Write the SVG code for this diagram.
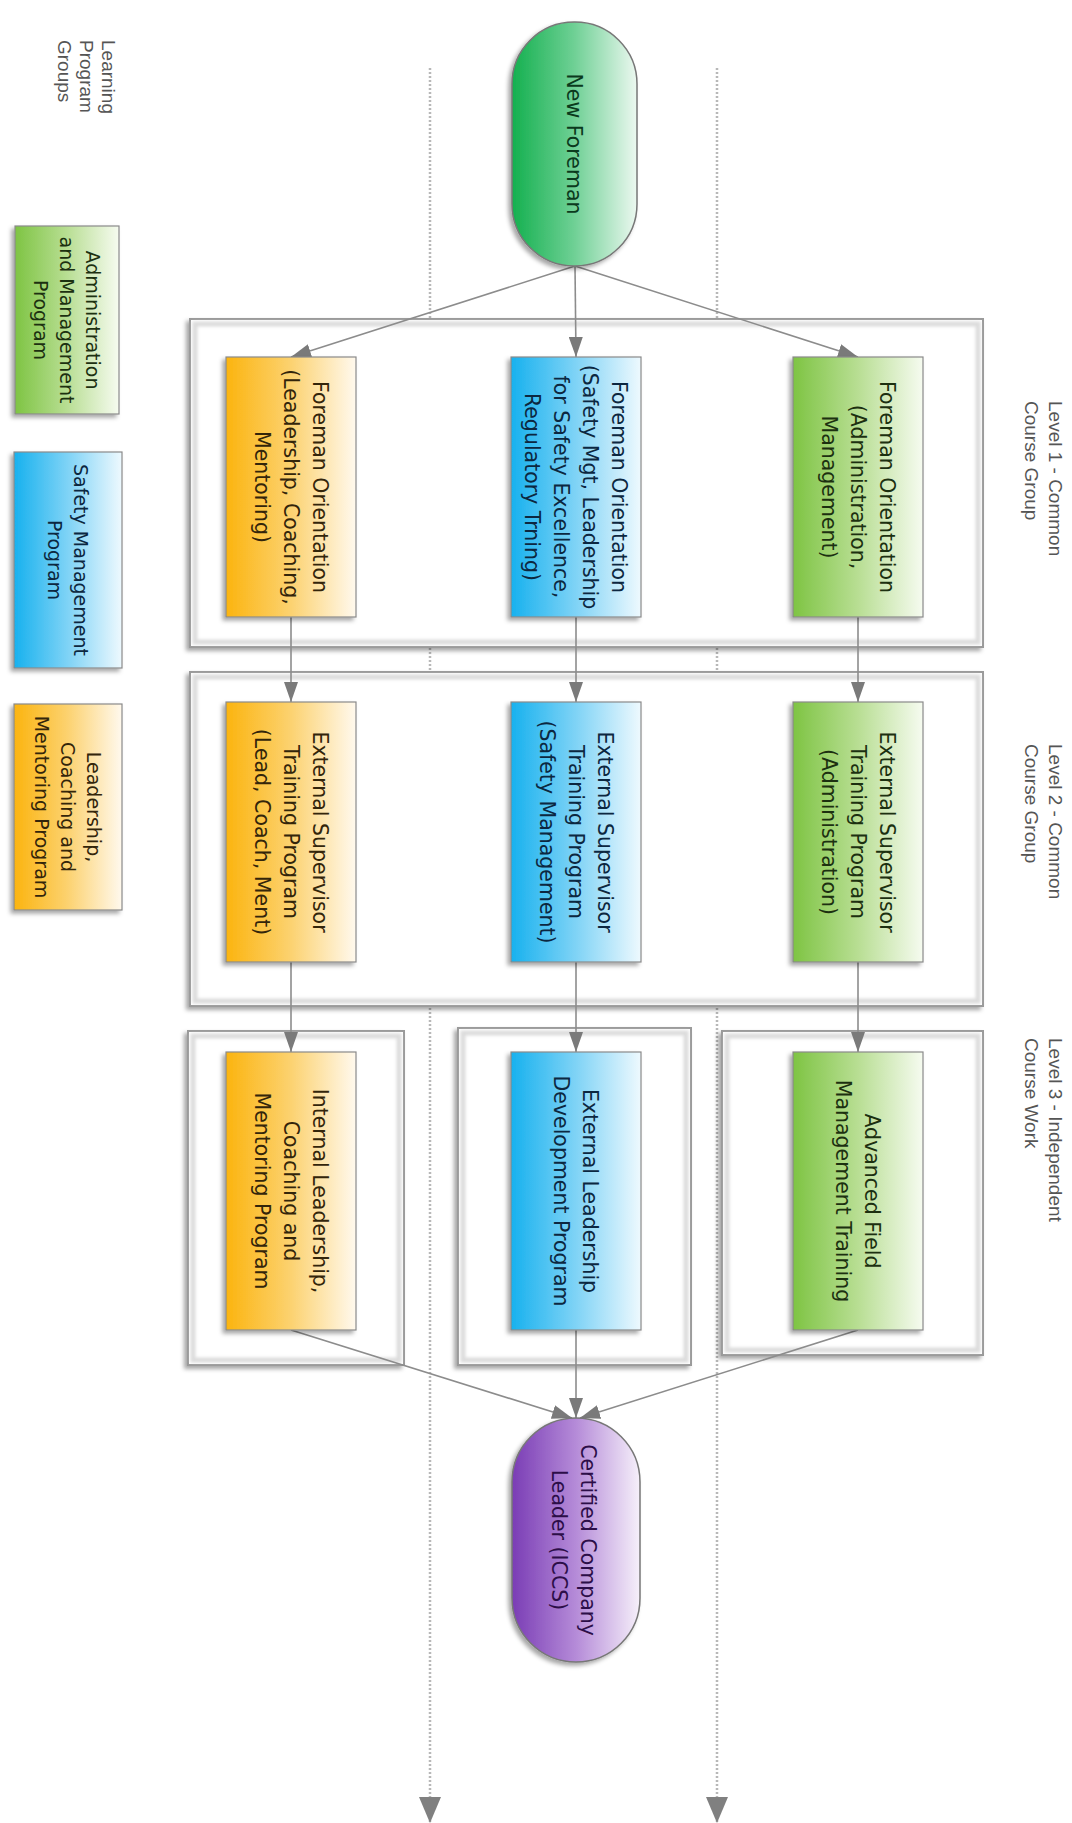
<svg xmlns="http://www.w3.org/2000/svg" width="1072" height="1823" viewBox="0 0 1072 1823">
<defs>
  <linearGradient id="gOrange" x1="0" y1="0" x2="1" y2="0">
    <stop offset="0" stop-color="#fbb40f"/><stop offset="0.5" stop-color="#fcd270"/><stop offset="1" stop-color="#fff9ee"/>
  </linearGradient>
  <linearGradient id="gBlue" x1="0" y1="0" x2="1" y2="0">
    <stop offset="0" stop-color="#17b1ee"/><stop offset="0.5" stop-color="#7fd3f6"/><stop offset="1" stop-color="#eef9fe"/>
  </linearGradient>
  <linearGradient id="gGreen" x1="0" y1="0" x2="1" y2="0">
    <stop offset="0" stop-color="#7ec443"/><stop offset="0.5" stop-color="#b8de93"/><stop offset="1" stop-color="#f6fbf0"/>
  </linearGradient>
  <linearGradient id="gStart" x1="0" y1="0" x2="1" y2="0">
    <stop offset="0" stop-color="#14b04f"/><stop offset="0.5" stop-color="#6fd095"/><stop offset="1" stop-color="#ecf8f0"/>
  </linearGradient>
  <linearGradient id="gEnd" x1="0" y1="0" x2="1" y2="0">
    <stop offset="0" stop-color="#7a3db5"/><stop offset="0.5" stop-color="#b58bd8"/><stop offset="1" stop-color="#f6f0fa"/>
  </linearGradient>
  <filter id="shadow" x="-20%" y="-20%" width="140%" height="140%">
    <feDropShadow dx="-3" dy="3" stdDeviation="2" flood-color="#000" flood-opacity="0.35"/>
  </filter>
  <filter id="blur" x="-5%" y="-5%" width="110%" height="110%">
    <feGaussianBlur stdDeviation="1.5"/>
  </filter>
  <marker id="arrow" markerUnits="userSpaceOnUse" viewBox="0 0 20 14" markerWidth="20" markerHeight="14" refX="20" refY="7" orient="auto">
    <path d="M0,0 L20,7 L0,14 z" fill="#7a7a7a"/>
  </marker>
  <marker id="lanearrow" markerUnits="userSpaceOnUse" viewBox="0 0 26 22" markerWidth="26" markerHeight="22" refX="26" refY="11" orient="auto">
    <path d="M0,0 L26,11 L0,22 z" fill="#808080"/>
  </marker>
</defs>
<style>
  .cont { fill: #ffffff; stroke: #9a9a9a; stroke-width: 2; filter: url(#shadow); }
  .band { fill: none; stroke: #dcdcdc; stroke-width: 5; filter: url(#blur); }
  .node { stroke: #8a8a8a; stroke-width: 1.2; filter: url(#shadow); }
  .pill { stroke: #777777; stroke-width: 1.5; filter: url(#shadow); }
  .lbl { font-family: "DejaVu Sans", "Open Sans", sans-serif; font-size: 20.5px; text-anchor: middle; }
  .leg { font-family: "DejaVu Sans", "Open Sans", sans-serif; font-size: 19px; text-anchor: middle; }
  .side { font-family: "Liberation Sans", "Open Sans", sans-serif; font-size: 19px; fill: #555555; }
  .conn { fill: none; stroke: #8c8c8c; stroke-width: 1.6; marker-end: url(#arrow); }
  .lane { fill: none; stroke: #b8b8b8; stroke-width: 2.5; stroke-dasharray: 2 2; marker-end: url(#lanearrow); }
  .tO { fill: #33250a; } .tB { fill: #0c2740; } .tG { fill: #1c3010; } .tS { fill: #0b3a1d; } .tP { fill: #2c0e48; }
</style>

<!-- side labels -->
<g id="label-groups">
  <g transform="translate(84,40) rotate(90)">
    <text class="side"><tspan x="0" y="-18">Learning</tspan><tspan x="0" y="4">Program</tspan><tspan x="0" y="26">Groups</tspan></text>
  </g>
</g>
<g id="label-level1">
  <g transform="translate(1040,401) rotate(90)">
    <text class="side"><tspan x="0" y="-9">Level 1 - Common</tspan><tspan x="0" y="15">Course Group</tspan></text>
  </g>
</g>
<g id="label-level2">
  <g transform="translate(1040,744) rotate(90)">
    <text class="side"><tspan x="0" y="-9">Level 2 - Common</tspan><tspan x="0" y="15">Course Group</tspan></text>
  </g>
</g>
<g id="label-level3">
  <g transform="translate(1040,1038) rotate(90)">
    <text class="side"><tspan x="0" y="-9">Level 3 - Independent</tspan><tspan x="0" y="15">Course Work</tspan></text>
  </g>
</g>

<!-- lanes -->
<g id="lanes">
  <path class="lane" d="M430,68 L430,1823"/>
  <path class="lane" d="M717,68 L717,1823"/>
</g>

<!-- containers -->
<g id="level1-group">
  <rect class="cont" x="190" y="319" width="793" height="328"/>
  <rect class="band" x="195" y="324" width="783" height="318"/>
</g>
<g id="level2-group">
  <rect class="cont" x="190" y="672" width="793" height="334"/>
  <rect class="band" x="195" y="677" width="783" height="324"/>
</g>
<g id="level3-group-left">
  <rect class="cont" x="188" y="1031" width="216" height="334"/>
  <rect class="band" x="193" y="1036" width="206" height="324"/>
</g>
<g id="level3-group-mid">
  <rect class="cont" x="458" y="1028" width="233" height="337"/>
  <rect class="band" x="463" y="1033" width="223" height="327"/>
</g>
<g id="level3-group-right">
  <rect class="cont" x="722" y="1031" width="261" height="324"/>
  <rect class="band" x="727" y="1036" width="251" height="314"/>
</g>

<!-- legend -->
<g id="legend-admin">
  <rect class="node" x="15" y="226" width="104" height="188" fill="url(#gGreen)"/>
  <g transform="translate(67,320) rotate(90)">
    <text class="leg tG"><tspan x="0" y="-19">Administration</tspan><tspan x="0" y="7">and Management</tspan><tspan x="0" y="33">Program</tspan></text>
  </g>
</g>
<g id="legend-safety">
  <rect class="node" x="14" y="452" width="108" height="216" fill="url(#gBlue)"/>
  <g transform="translate(68,560) rotate(90)">
    <text class="leg tB"><tspan x="0" y="-6">Safety Management</tspan><tspan x="0" y="20">Program</tspan></text>
  </g>
</g>
<g id="legend-leadership">
  <rect class="node" x="14" y="704" width="108" height="206" fill="url(#gOrange)"/>
  <g transform="translate(68,807) rotate(90)">
    <text class="leg tO"><tspan x="0" y="-19">Leadership,</tspan><tspan x="0" y="7">Coaching and</tspan><tspan x="0" y="33">Mentoring Program</tspan></text>
  </g>
</g>

<!-- connectors -->
<g id="connectors">
  <path class="conn" d="M575,266 L291,357"/>
  <path class="conn" d="M575,266 L576,357"/>
  <path class="conn" d="M575,266 L858,357"/>
  <path class="conn" d="M291,617 L291,702"/>
  <path class="conn" d="M576,617 L576,702"/>
  <path class="conn" d="M858,617 L858,702"/>
  <path class="conn" d="M291,962 L291,1052"/>
  <path class="conn" d="M576,962 L576,1052"/>
  <path class="conn" d="M858,962 L858,1052"/>
  <path class="conn" d="M291,1330 L572,1418"/>
  <path class="conn" d="M576,1330 L576,1418"/>
  <path class="conn" d="M858,1330 L580,1418"/>
</g>

<!-- start / end -->
<g id="new-foreman">
  <rect class="pill" x="512" y="22" width="125" height="244" rx="62" ry="62" fill="url(#gStart)"/>
  <g transform="translate(574.5,144) rotate(90)">
    <text class="lbl tS"><tspan x="0" y="7.5">New Foreman</tspan></text>
  </g>
</g>
<g id="certified-leader">
  <rect class="pill" x="512" y="1418" width="128" height="244" rx="64" ry="64" fill="url(#gEnd)"/>
  <g transform="translate(574,1540) rotate(90)">
    <text class="lbl tP"><tspan x="0" y="-7">Certified Company</tspan><tspan x="0" y="22">Leader (ICCS)</tspan></text>
  </g>
</g>

<!-- level 1 nodes -->
<g id="l1-leadership">
  <rect class="node" x="226" y="357" width="130" height="260" fill="url(#gOrange)"/>
  <g transform="translate(291,487) rotate(90)">
    <text class="lbl tO"><tspan x="0" y="-21.5">Foreman Orientation</tspan><tspan x="0" y="7.5">(Leadership, Coaching,</tspan><tspan x="0" y="36.5">Mentoring)</tspan></text>
  </g>
</g>
<g id="l1-safety">
  <rect class="node" x="511" y="357" width="130" height="260" fill="url(#gBlue)"/>
  <g transform="translate(576,487) rotate(90)">
    <text class="lbl tB"><tspan x="0" y="-36">Foreman Orientation</tspan><tspan x="0" y="-7">(Safety Mgt, Leadership</tspan><tspan x="0" y="22">for Safety Excellence,</tspan><tspan x="0" y="51">Regulatory Trning)</tspan></text>
  </g>
</g>
<g id="l1-admin">
  <rect class="node" x="793" y="357" width="130" height="260" fill="url(#gGreen)"/>
  <g transform="translate(858,487) rotate(90)">
    <text class="lbl tG"><tspan x="0" y="-21.5">Foreman Orientation</tspan><tspan x="0" y="7.5">(Administration,</tspan><tspan x="0" y="36.5">Management)</tspan></text>
  </g>
</g>

<!-- level 2 nodes -->
<g id="l2-leadership">
  <rect class="node" x="226" y="702" width="130" height="260" fill="url(#gOrange)"/>
  <g transform="translate(291,832) rotate(90)">
    <text class="lbl tO"><tspan x="0" y="-21.5">External Supervisor</tspan><tspan x="0" y="7.5">Training Program</tspan><tspan x="0" y="36.5">(Lead, Coach, Ment)</tspan></text>
  </g>
</g>
<g id="l2-safety">
  <rect class="node" x="511" y="702" width="130" height="260" fill="url(#gBlue)"/>
  <g transform="translate(576,832) rotate(90)">
    <text class="lbl tB"><tspan x="0" y="-21.5">External Supervisor</tspan><tspan x="0" y="7.5">Training Program</tspan><tspan x="0" y="36.5">(Safety Management)</tspan></text>
  </g>
</g>
<g id="l2-admin">
  <rect class="node" x="793" y="702" width="130" height="260" fill="url(#gGreen)"/>
  <g transform="translate(858,832) rotate(90)">
    <text class="lbl tG"><tspan x="0" y="-21.5">External Supervisor</tspan><tspan x="0" y="7.5">Training Program</tspan><tspan x="0" y="36.5">(Administration)</tspan></text>
  </g>
</g>

<!-- level 3 nodes -->
<g id="l3-leadership">
  <rect class="node" x="226" y="1052" width="130" height="278" fill="url(#gOrange)"/>
  <g transform="translate(291,1191) rotate(90)">
    <text class="lbl tO"><tspan x="0" y="-21.5">Internal Leadership,</tspan><tspan x="0" y="7.5">Coaching and</tspan><tspan x="0" y="36.5">Mentoring Program</tspan></text>
  </g>
</g>
<g id="l3-safety">
  <rect class="node" x="511" y="1052" width="130" height="278" fill="url(#gBlue)"/>
  <g transform="translate(576,1191) rotate(90)">
    <text class="lbl tB"><tspan x="0" y="-7">External Leadership</tspan><tspan x="0" y="22">Development Program</tspan></text>
  </g>
</g>
<g id="l3-admin">
  <rect class="node" x="793" y="1052" width="130" height="278" fill="url(#gGreen)"/>
  <g transform="translate(858,1191) rotate(90)">
    <text class="lbl tG"><tspan x="0" y="-7">Advanced Field</tspan><tspan x="0" y="22">Management Training</tspan></text>
  </g>
</g>
</svg>
